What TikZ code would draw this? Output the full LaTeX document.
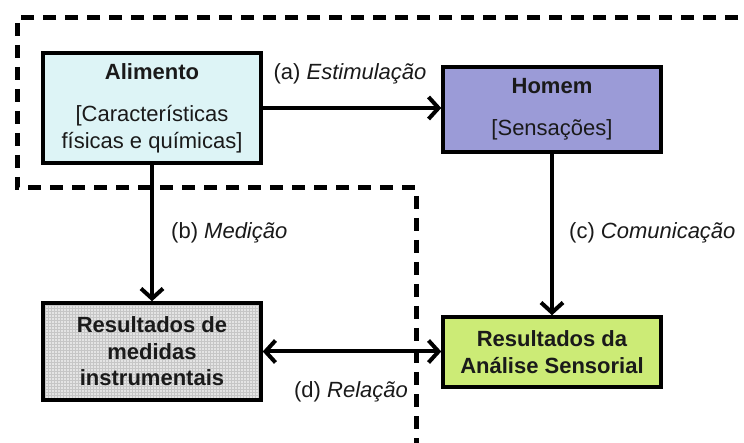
\documentclass[tikz,border=0pt]{standalone}
\usepackage{fontspec}
\setmainfont{Liberation Sans}
\usetikzlibrary{arrows.meta,patterns}
\definecolor{cAlim}{HTML}{DDF4F6}
\definecolor{cHom}{HTML}{9B9BD7}
\definecolor{cMed}{HTML}{E4E4E4}
\definecolor{cAna}{HTML}{CCEB76}
\definecolor{cTxt}{HTML}{1A1A1A}
\tikzset{
  box/.style={draw=black, line width=3.5pt, minimum width=218pt, align=center, inner sep=0pt,
    font=\fontsize{22}{27}\selectfont, text=cTxt},
  lbl/.style={font=\fontsize{22}{27}\selectfont, text=cTxt, inner sep=0pt},
  conn/.style={line width=4pt, >={Straight Barb[length=10pt,width=22pt,line width=4pt]}},
  border/.style={line width=5pt, dash pattern=on 13pt off 9pt}
}
\begin{document}
\begin{tikzpicture}[x=1pt,y=-1pt]
\useasboundingbox (0,0) rectangle (744,443);
\fill[white] (0,0) rectangle (744,443);
% dashed region
\draw[border] (760,18) -- (17,18) -- (17,188) -- (416,188) -- (416,460);
% boxes
\node[box, fill=cAlim, minimum height=110pt] (alim) at (152,108)
  {\textbf{Alimento}\\[15pt]{[}Características\\físicas e químicas{]}};
\node[box, fill=cHom, minimum height=85pt] (hom) at (552,109.5)
  {\textbf{Homem}\\[15pt]{[}Sensações{]}};
\node[box, preaction={fill=cMed}, pattern=grid, pattern color=gray!45, minimum height=97pt, font=\fontsize{22}{26.5}\selectfont\bfseries] (med) at (152,351.5)
  {Resultados de\\medidas\\instrumentais};
\node[box, fill=cAna, minimum height=70pt, font=\fontsize{22}{27}\selectfont\bfseries] (ana) at (552,352)
  {Resultados da\\Análise Sensorial};
% connectors
\draw[conn,->] (alim.east) -- (alim.east -| hom.west);
\draw[conn,->] (alim.south) -- (med.north);
\draw[conn,->] (hom.south) -- (ana.north);
\draw[conn,<->] (med.east) -- (med.east -| ana.west);
% labels
\node[lbl] (la) at (350,74) {(a) \textit{Estimulação}};
\node[lbl, anchor=west] (lb) at (171,233) {(b) \textit{Medição}};
\node[lbl, anchor=west] (lc) at (569,233) {(c) \textit{Comunicação}};
\node[lbl] (ld) at (351,392) {(d) \textit{Relação}};
\end{tikzpicture}
\end{document}
